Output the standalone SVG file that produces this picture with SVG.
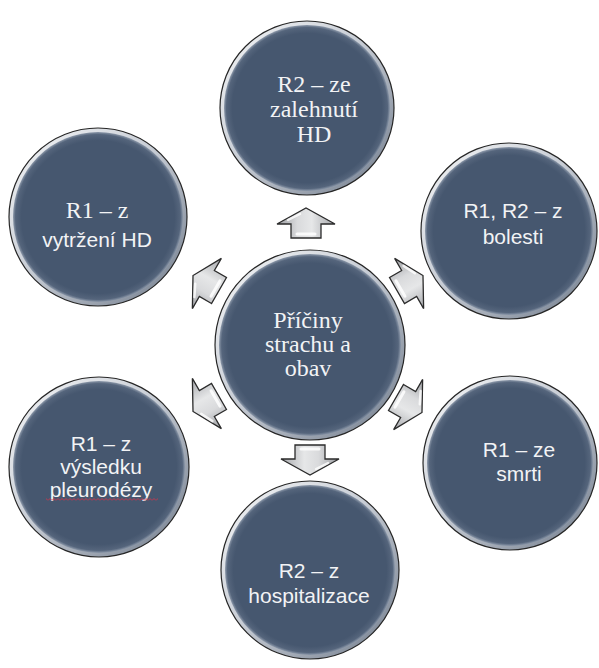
<svg xmlns="http://www.w3.org/2000/svg" width="599" height="668" viewBox="0 0 599 668">
  <defs>
    <!-- bevelled rim of each disc -->
    <linearGradient id="rim" x1="0" y1="0" x2="1" y2="1">
      <stop offset="0" stop-color="#f6f7f8"/>
      <stop offset="0.45" stop-color="#c9ced6"/>
      <stop offset="1" stop-color="#6f7a8a"/>
    </linearGradient>
    <radialGradient id="face" cx="0.5" cy="0.5" r="0.5">
      <stop offset="0" stop-color="#46576f"/>
      <stop offset="0.9" stop-color="#46576f"/>
      <stop offset="0.97" stop-color="#55657c"/>
      <stop offset="1" stop-color="#8e9aab"/>
    </radialGradient>
    <!-- block arrow, drawn pointing along +x -->
    <linearGradient id="arrFill" x1="0" y1="0" x2="0" y2="1">
      <stop offset="0" stop-color="#9a9ca0"/>
      <stop offset="0.35" stop-color="#d9dadc"/>
      <stop offset="0.6" stop-color="#e6e7e8"/>
      <stop offset="1" stop-color="#a4a6aa"/>
    </linearGradient>
    <g id="arrow">
      <path d="M-15,-15 H-1 V-29 L15,0 L-1,29 V15 H-15 Z" fill="url(#arrFill)" stroke="#2b2b2b" stroke-width="1.3" stroke-linejoin="miter"/>
      <path d="M-11,-9 V9" stroke="#ffffff" stroke-width="3" stroke-linecap="round" opacity="0.85"/>
      <path d="M3,-18 L9,-6" stroke="#ffffff" stroke-width="2.5" stroke-linecap="round" opacity="0.8"/>
    </g>
    <!-- spell-check squiggle -->
    <pattern id="squig" x="0" y="0" width="4" height="3" patternUnits="userSpaceOnUse">
      <path d="M0,2.5 L2,0.5 L4,2.5" fill="none" stroke="#d2334a" stroke-width="0.9"/>
    </pattern>
  </defs>
  <style>
    .rimc { fill: url(#rim); stroke: #262626; stroke-width: 1.2; }
    .facec { fill: url(#face); }
    .serif { font-family: "Liberation Serif", "Times New Roman", serif; font-size: 24px; fill: #f2f3f5; text-anchor: middle; }
    .sans { font-family: "Liberation Sans", Arial, sans-serif; font-size: 21px; fill: #f2f3f5; text-anchor: middle; }
  </style>

  <rect width="599" height="668" fill="#ffffff"/>

  <!-- connectors: six arrows radiating from the centre -->
  <g id="connectors">
    <use href="#arrow" transform="translate(306,223) rotate(-90)"/>
    <use href="#arrow" transform="translate(410,283) rotate(-30)"/>
    <use href="#arrow" transform="translate(409,405) rotate(30)"/>
    <use href="#arrow" transform="translate(310,460) rotate(90)"/>
    <use href="#arrow" transform="translate(206,404) rotate(150)"/>
    <use href="#arrow" transform="translate(206,283) rotate(210)"/>
  </g>

  <g id="center">
    <circle class="rimc" cx="310" cy="345" r="95"/>
    <circle class="facec" cx="310" cy="345" r="91"/>
    <text class="serif" font-family="Liberation Serif, serif" x="308" y="328">Příčiny</text>
    <text class="serif" font-family="Liberation Serif, serif" x="308" y="352">strachu a</text>
    <text class="serif" font-family="Liberation Serif, serif" x="308" y="376">obav</text>
  </g>

  <g id="top">
    <circle class="rimc" cx="307" cy="108" r="87"/>
    <circle class="facec" cx="307" cy="108" r="83"/>
    <text class="serif" font-family="Liberation Serif, serif" x="314" y="92">R2 – ze</text>
    <text class="serif" font-family="Liberation Serif, serif" x="314" y="117">zalehnutí</text>
    <text class="serif" font-family="Liberation Serif, serif" x="314" y="142">HD</text>
  </g>

  <g id="upper-left">
    <circle class="rimc" cx="98" cy="217" r="89"/>
    <circle class="facec" cx="98" cy="217" r="85"/>
    <text class="serif" font-family="Liberation Serif, serif" x="97" y="218">R1 – z</text>
    <text class="sans" x="97" y="247">vytržení HD</text>
  </g>

  <g id="upper-right">
    <circle class="rimc" cx="509" cy="231" r="88"/>
    <circle class="facec" cx="509" cy="231" r="84"/>
    <text class="sans" x="513" y="218">R1, R2 – z</text>
    <text class="sans" x="513" y="244">bolesti</text>
  </g>

  <g id="lower-left">
    <circle class="rimc" cx="99" cy="467" r="90"/>
    <circle class="facec" cx="99" cy="467" r="86"/>
    <text class="sans" x="101" y="451">R1 – z</text>
    <text class="sans" x="101" y="474">výsledku</text>
    <text class="sans" x="101" y="497">pleurodézy</text>
    <rect x="46" y="498" width="112" height="3" fill="url(#squig)"/>
  </g>

  <g id="lower-right">
    <circle class="rimc" cx="510" cy="463" r="87"/>
    <circle class="facec" cx="510" cy="463" r="83"/>
    <text class="sans" x="519" y="457">R1 – ze</text>
    <text class="sans" x="519" y="481">smrti</text>
  </g>

  <g id="bottom">
    <circle class="rimc" cx="310" cy="570" r="89"/>
    <circle class="facec" cx="310" cy="570" r="85"/>
    <text class="sans" x="309" y="578">R2 – z</text>
    <text class="sans" x="309" y="603">hospitalizace</text>
  </g>
</svg>
